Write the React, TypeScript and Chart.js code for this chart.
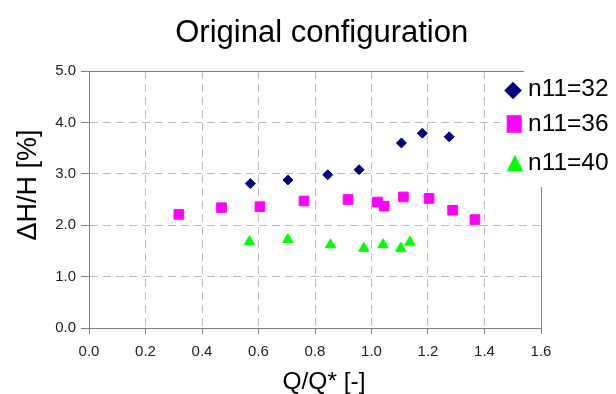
import { useEffect, useRef } from 'react';
import { Chart, registerables } from 'chart.js';

Chart.register(...registerables);

const TITLE = 'Original configuration';
const X_TITLE = 'Q/Q* [-]';
const Y_TITLE = 'ΔH/H [%]';
const SERIES_LABELS = ['n11=32', 'n11=36', 'n11=40'];
const SERIES_COLORS = ['#000080', '#FF00FF', '#00FF00'];
const SERIES_STYLES = ['rectRot', 'rect', 'triangle'];

const X32 = [0.571, 0.704, 0.845, 0.956, 1.106, 1.18, 1.275];
const Y32 = [2.81, 2.88, 2.98, 3.08, 3.6, 3.79, 3.72];
const X36 = [0.318, 0.469, 0.605, 0.761, 0.917, 1.021, 1.045, 1.113, 1.204, 1.287, 1.366];
const Y36 = [2.21, 2.34, 2.36, 2.47, 2.5, 2.45, 2.37, 2.55, 2.52, 2.29, 2.11];
const X40 = [0.568, 0.704, 0.855, 0.973, 1.041, 1.104, 1.136];
const Y40 = [1.68, 1.72, 1.62, 1.55, 1.62, 1.55, 1.67];

const X_MIN = 0;
const X_MAX = 1.6;
const X_STEP = 0.2;
const Y_MIN = 0;
const Y_MAX = 5;
const Y_STEP = 1;

const FONT = '"Liberation Sans", Arial, sans-serif';

const pts = (xs: number[], ys: number[]) => xs.map((x, i) => ({ x, y: ys[i] }));

const decor = {
  id: 'decor',
  beforeDatasetsDraw(chart: any) {
    const { ctx, chartArea: a } = chart;
    ctx.save();
    ctx.strokeStyle = '#808080';
    ctx.lineWidth = 1;
    ctx.strokeRect(
      Math.round(a.left) + 0.5,
      Math.round(a.top) + 0.5,
      Math.round(a.right - a.left),
      Math.round(a.bottom - a.top)
    );
    ctx.restore();
  },
  afterDraw(chart: any) {
    const { ctx } = chart;
    ctx.save();
    ctx.fillStyle = '#000';
    ctx.textAlign = 'center';
    ctx.textBaseline = 'alphabetic';
    // chart title
    ctx.font = `31px ${FONT}`;
    ctx.fillText(TITLE, 321.7, 41.5);
    // x axis title
    ctx.font = `24.5px ${FONT}`;
    ctx.fillText(X_TITLE, 324, 389);
    // y axis title
    ctx.save();
    ctx.translate(36, 185);
    ctx.rotate(-Math.PI / 2);
    ctx.font = `27px ${FONT}`;
    ctx.fillText(Y_TITLE, 0, 0);
    ctx.restore();

    // legend box
    ctx.fillStyle = '#fff';
    ctx.fillRect(500, 74, 116, 113);
    ctx.fillRect(524, 60, 92, 15);

    const rows = [
      { cx: 513, cy: 90.5, base: 96 },
      { cx: 514.2, cy: 124, base: 131 },
      { cx: 515, cy: 163, base: 170 },
    ];
    chart.data.datasets.forEach((ds: any, i: number) => {
      const r = rows[i];
      ctx.fillStyle = ds.backgroundColor;
      ctx.beginPath();
      if (ds.pointStyle === 'rectRot') {
        const h = 8.8;
        ctx.moveTo(r.cx, r.cy - h);
        ctx.lineTo(r.cx + h, r.cy);
        ctx.lineTo(r.cx, r.cy + h);
        ctx.lineTo(r.cx - h, r.cy);
      } else if (ds.pointStyle === 'rect') {
        ctx.rect(r.cx - 7.5, r.cy - 8.8, 15, 17.6);
      } else {
        ctx.moveTo(r.cx, r.cy - 8.3);
        ctx.lineTo(r.cx + 8.4, r.cy + 8.4);
        ctx.lineTo(r.cx - 8.4, r.cy + 8.4);
      }
      ctx.closePath();
      ctx.fill();
      ctx.fillStyle = '#000';
      ctx.font = `24.5px ${FONT}`;
      ctx.textAlign = 'left';
      ctx.textBaseline = 'alphabetic';
      ctx.fillText(ds.label, 528, r.base);
    });
    ctx.restore();
  },
};

export default function App() {
  const ref = useRef<HTMLCanvasElement>(null);

  useEffect(() => {
    if (!ref.current) return;
    const mk = (i: number, data: any[], radius: number) => ({
      label: SERIES_LABELS[i],
      data,
      backgroundColor: SERIES_COLORS[i],
      borderColor: SERIES_COLORS[i],
      borderWidth: 1,
      pointStyle: SERIES_STYLES[i],
      pointRadius: radius,
      pointHoverRadius: radius,
      showLine: false,
    });
    const chart = new Chart(ref.current, {
      type: 'scatter',
      data: {
        datasets: [
          mk(0, pts(X32, Y32), 5),
          mk(1, pts(X36, Y36), 6.8),
          mk(2, pts(X40, Y40), 6),
        ],
      },
      options: {
        responsive: false,
        animation: false,
        events: [],
        layout: { padding: { left: 4, right: 75, top: 71, bottom: 0 } },
        plugins: {
          legend: { display: false },
          tooltip: { enabled: false },
          title: { display: false },
        },
        scales: {
          x: {
            type: 'linear',
            min: X_MIN,
            max: X_MAX,
            afterFit: (s: any) => {
              s.height = 66;
            },
            ticks: {
              stepSize: X_STEP,
              color: '#222',
              font: { family: FONT, size: 15 },
              padding: 9,
              maxRotation: 0,
              callback: (v: any) => Number(v).toFixed(1),
            },
            grid: {
              color: '#bcbcbc',
              tickColor: '#808080',
              tickLength: 6,
              lineWidth: 1,
            },
            border: { display: true, color: '#808080', dash: [8, 5] },
          },
          y: {
            type: 'linear',
            min: Y_MIN,
            max: Y_MAX,
            afterFit: (s: any) => {
              s.width = 85;
            },
            ticks: {
              stepSize: Y_STEP,
              color: '#222',
              font: { family: FONT, size: 15 },
              padding: 5,
              callback: (v: any) => Number(v).toFixed(1),
            },
            grid: {
              color: '#bcbcbc',
              tickColor: '#808080',
              tickLength: 8,
              lineWidth: 1,
            },
            border: { display: true, color: '#808080', dash: [8, 5] },
          },
        },
      },
      plugins: [decor],
    } as any);
    return () => chart.destroy();
  }, []);

  return (
    <div style={{ position: 'fixed', left: 0, top: 0, width: 616, height: 394, background: '#fff' }}>
      <canvas ref={ref} width={616} height={394} />
    </div>
  );
}
